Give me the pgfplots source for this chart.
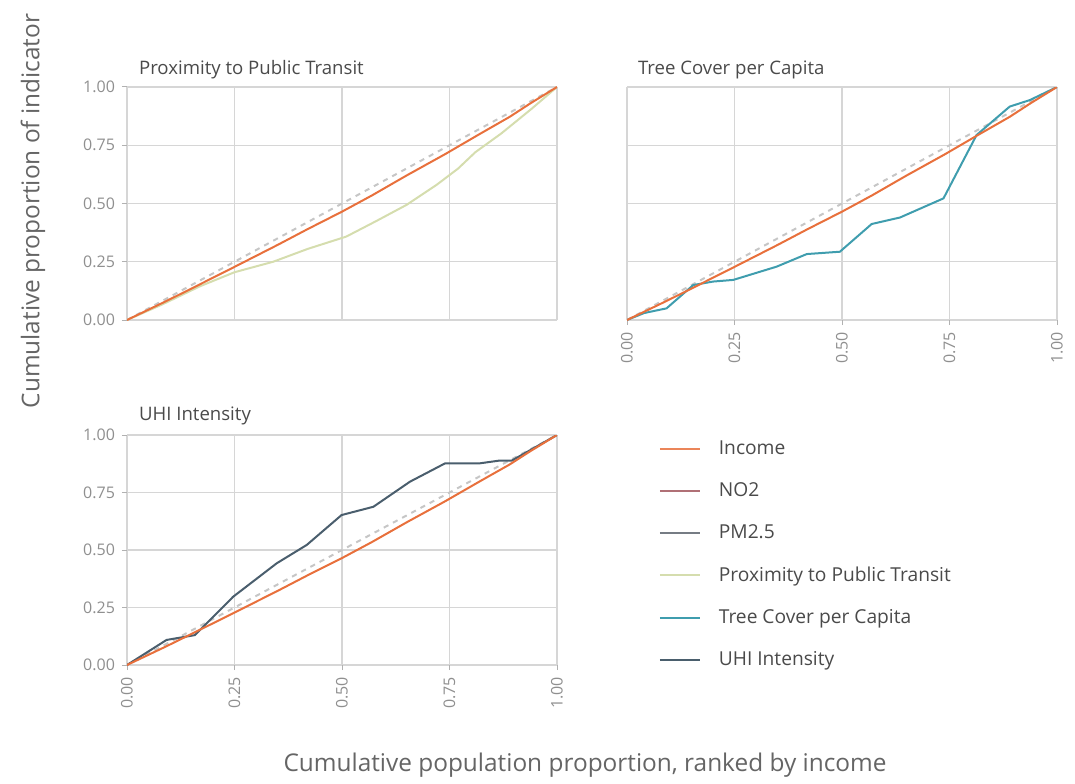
\documentclass[border=0pt]{standalone}
\usepackage{fontspec}
\setmainfont{Open Sans}
\usepackage{pgfplots}
\pgfplotsset{compat=1.18}
\definecolor{cinc}{HTML}{E8703C}
\definecolor{cno}{HTML}{B07076}
\definecolor{cpm}{HTML}{767C84}
\definecolor{cprox}{HTML}{D5DDAE}
\definecolor{ctree}{HTML}{3F9DAE}
\definecolor{cuhi}{HTML}{4A5E6D}
\definecolor{cgrid}{HTML}{D6D6D6}
\definecolor{ctick}{HTML}{8F8F8F}
\definecolor{ctitle}{HTML}{4A4A4A}
\pgfplotsset{
  panel/.style={
    scale only axis, width=215pt, height=116.5pt,
    xmin=0, xmax=1, ymin=0, ymax=1,
    xtick={0,0.25,0.5,0.75,1}, ytick={0,0.25,0.5,0.75,1},
    grid=major, grid style={cgrid, line width=0.6pt},
    axis line style={draw=none},
    tick align=outside, major tick length=2.5pt,
    tick style={ctick!70, line width=0.5pt},
    xtick pos=bottom, ytick pos=left,
    ticklabel style={font=\fontsize{8}{9}\selectfont, text=ctick},
    xticklabel style={rotate=90, anchor=east},
    /pgf/number format/.cd, fixed, fixed zerofill, precision=2, assume math mode=true,
  },
  diag/.style={color=gray!45, line width=1pt, dash pattern=on 2.6pt off 2.6pt},
  ln/.style={line width=1pt},
}
\begin{document}
\begin{tikzpicture}
\path[use as bounding box] (0pt,0pt) rectangle (537.5pt,391.5pt);

% Panel 1: Proximity to Public Transit
\begin{axis}[panel, at={(63.5pt,231.5pt)}, anchor=south west,
  xticklabels={}, xtick style={draw=none}]
\addplot[diag] coordinates {(0,0) (1,1)};
\addplot[ln, cprox] coordinates {(0,0) (0.08,0.065) (0.17,0.145) (0.25,0.205) (0.34,0.25) (0.42,0.305) (0.51,0.358) (0.58,0.425) (0.65,0.494) (0.72,0.58) (0.77,0.65) (0.81,0.72) (0.87,0.80) (0.94,0.905) (1,1)};
\addplot[ln, cinc] coordinates {(0,0) (0.09,0.08) (0.15,0.135) (0.25,0.228) (0.35,0.322) (0.42,0.39) (0.5,0.465) (0.57,0.535) (0.65,0.62) (0.74,0.712) (0.82,0.798) (0.89,0.872) (0.94,0.932) (1,1)};
\end{axis}

% Panel 2: Tree Cover per Capita
\begin{axis}[panel, at={(313.5pt,231.5pt)}, anchor=south west,
  yticklabels={}, ytick style={draw=none}]
\addplot[diag] coordinates {(0,0) (1,1)};
\addplot[ln, ctree] coordinates {(0,0) (0.04,0.03) (0.092,0.05) (0.154,0.15) (0.2,0.165) (0.247,0.172) (0.348,0.229) (0.418,0.283) (0.495,0.293) (0.569,0.412) (0.635,0.44) (0.736,0.522) (0.813,0.794) (0.89,0.916) (0.937,0.944) (1,1)};
\addplot[ln, cinc] coordinates {(0,0) (0.09,0.08) (0.15,0.135) (0.25,0.228) (0.35,0.322) (0.42,0.39) (0.5,0.465) (0.57,0.535) (0.65,0.62) (0.74,0.712) (0.82,0.798) (0.89,0.872) (0.94,0.932) (1,1)};
\end{axis}

% Panel 3: UHI Intensity
\begin{axis}[panel, at={(63.5pt,59pt)}, anchor=south west, height=115pt,
  legend style={at={(1.222,1.013)}, anchor=north west, draw=none, fill=none,
    font=\fontsize{9.6}{10}\selectfont, text=ctitle, row sep=8.6pt,
    legend cell align=left,
    /tikz/every odd column/.append style={column sep=7pt}},
  legend image code/.code={\draw[#1] (0pt,0pt) -- (20pt,0pt);}]
\addplot[diag, forget plot] coordinates {(0,0) (1,1)};
\addplot[ln, cuhi, forget plot] coordinates {(0,0) (0.092,0.109) (0.158,0.13) (0.247,0.297) (0.348,0.442) (0.418,0.522) (0.499,0.652) (0.573,0.688) (0.658,0.797) (0.74,0.877) (0.821,0.877) (0.867,0.889) (0.895,0.889) (1,1)};
\addplot[ln, cinc, forget plot] coordinates {(0,0) (0.09,0.08) (0.15,0.135) (0.25,0.228) (0.35,0.322) (0.42,0.39) (0.5,0.465) (0.57,0.535) (0.65,0.62) (0.74,0.712) (0.82,0.798) (0.89,0.872) (0.94,0.932) (1,1)};
\addlegendimage{ln, cinc!85}
\addlegendentry{Income}
\addlegendimage{ln, cno}
\addlegendentry{NO2}
\addlegendimage{ln, cpm}
\addlegendentry{PM2.5}
\addlegendimage{ln, cprox}
\addlegendentry{Proximity to Public Transit}
\addlegendimage{ln, ctree}
\addlegendentry{Tree Cover per Capita}
\addlegendimage{ln, cuhi}
\addlegendentry{UHI Intensity}
\end{axis}

% strip titles
\node[anchor=west, font=\fontsize{9.3}{10}\selectfont, text=ctitle] at (66pt,356.5pt) {Proximity to Public Transit};
\node[anchor=west, font=\fontsize{9.3}{10}\selectfont, text=ctitle] at (315.5pt,356.5pt) {Tree Cover per Capita};
\node[anchor=west, font=\fontsize{9.3}{10}\selectfont, text=ctitle] at (66pt,183.5pt) {UHI Intensity};

% axis titles
\node[rotate=90, font=\fontsize{12.2}{14}\selectfont, text=ctitle!85] at (16.5pt,286pt) {Cumulative proportion of indicator};
\node[font=\fontsize{12.2}{14}\selectfont, text=ctitle!85] at (292.5pt,9pt) {Cumulative population proportion, ranked by income};
\end{tikzpicture}
\end{document}
